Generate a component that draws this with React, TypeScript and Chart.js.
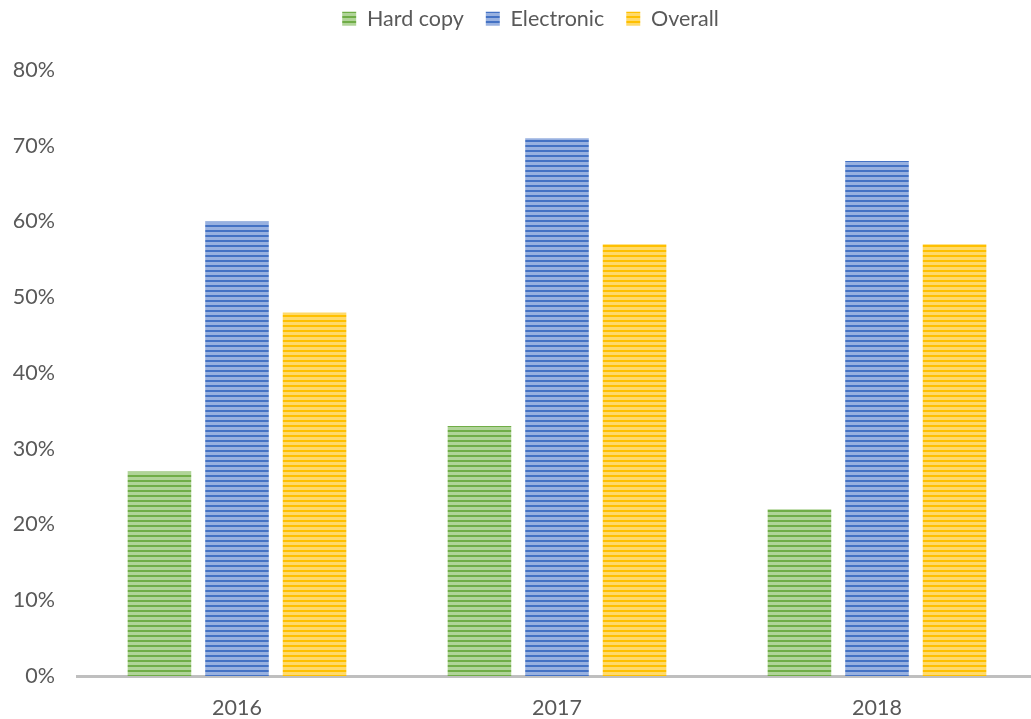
import React, { useEffect, useRef } from "react";
import { Chart, registerables } from "chart.js";

Chart.register(...registerables);

const categories = ["2016", "2017", "2018"];
const seriesNames = ["Hard copy", "Electronic", "Overall"];
const hardCopy = [27, 33, 22];
const electronic = [60, 71, 68];
const overall = [48, 57, 57];
const yTicks = [0, 10, 20, 30, 40, 50, 60, 70, 80];

const FONT = "Lato, 'Open Sans', sans-serif";
const FS = 21.5;

function stripe(dark: string, light: string): CanvasPattern | string {
  const c = document.createElement("canvas");
  c.width = 4;
  c.height = 5;
  const g = c.getContext("2d");
  if (!g) return dark;
  g.fillStyle = light;
  g.fillRect(0, 0, 4, 5);
  g.fillStyle = dark;
  g.fillRect(0, 0, 4, 2);
  const p = g.createPattern(c, "repeat");
  return p || dark;
}

export default function App() {
  const ref = useRef<HTMLCanvasElement>(null);
  useEffect(() => {
    if (!ref.current) return;
    const green = stripe("#70AD47", "#B0D498");
    const blue = stripe("#4472C4", "#98B1E0");
    const gold = stripe("#FFC000", "#FFDA6A");
    const legendTweak = {
      id: "legendTweak",
      beforeInit(chart: any) {
        const lg = chart.legend;
        const origFit = lg.fit;
        lg.fit = function () {
          origFit.call(this);
          this.height = 70;
        };
        const origDraw = lg.draw;
        lg.draw = function () {
          const ctx = chart.ctx;
          ctx.save();
          ctx.translate(12, -14);
          origDraw.call(this);
          ctx.restore();
        };
      },
    };
    const chart = new Chart(ref.current, {
      type: "bar",
      data: {
        labels: categories,
        datasets: [
          { label: seriesNames[0], data: hardCopy, backgroundColor: green as any },
          { label: seriesNames[1], data: electronic, backgroundColor: blue as any },
          { label: seriesNames[2], data: overall, backgroundColor: gold as any },
        ],
      },
      options: {
        responsive: false,
        animation: false,
        devicePixelRatio: 1,
        layout: { padding: 0 },
        datasets: { bar: { categoryPercentage: 0.727, barPercentage: 0.82 } },
        plugins: {
          tooltip: { enabled: false },
          legend: {
            position: "top",
            labels: {
              boxWidth: 14,
              boxHeight: 14,
              padding: 22,
              color: "#595959",
              font: { family: FONT, size: FS },
            },
          },
        },
        scales: {
          x: {
            grid: { display: false, drawTicks: false },
            border: { display: true, color: "#BFBFBF", width: 3 },
            ticks: { color: "#595959", padding: 19, font: { family: FONT, size: FS } },
            afterFit(scale: any) {
              scale.height = 43;
            },
          },
          y: {
            min: 0,
            max: 80,
            grid: { display: false, drawTicks: false },
            border: { display: false },
            afterBuildTicks(scale: any) {
              scale.ticks = yTicks.map((v) => ({ value: v }));
            },
            ticks: {
              color: "#595959",
              padding: 22,
              font: { family: FONT, size: FS },
              callback: (v: any) => v + "%",
            },
            afterFit(scale: any) {
              scale.width = 77;
            },
          },
        },
      },
      plugins: [legendTweak],
    });
    return () => chart.destroy();
  }, []);
  return (
    <div style={{ position: "absolute", left: 0, top: 0, width: 1031, height: 719, background: "#fff", overflow: "hidden" }}>
      <canvas ref={ref} width={1037} height={719} style={{ display: "block" }} />
    </div>
  );
}
